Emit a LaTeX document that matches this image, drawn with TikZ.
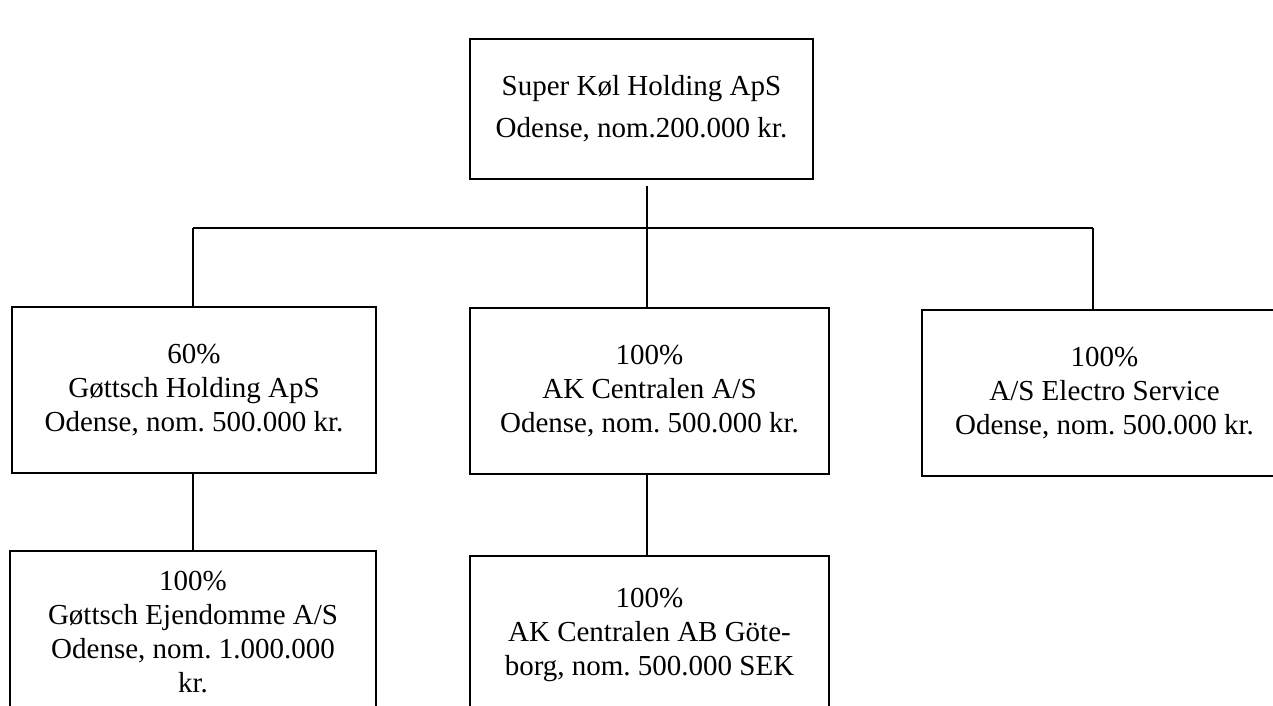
\documentclass[tikz,border=0pt]{standalone}
\usepackage{fontspec}
\setmainfont{Liberation Serif}
\frenchspacing
\begin{document}
\begin{tikzpicture}[x=1pt,y=-1pt,
  box/.style={draw,line width=2pt,align=center,inner sep=0pt,anchor=north west,
    font=\fontsize{29}{34}\selectfont},
  conn/.style={line width=2.5pt}]
\clip (0,0) rectangle (1273,706);
\useasboundingbox (0,0) rectangle (1273,706);
\node[box,minimum width=343pt,minimum height=140pt,font=\fontsize{29}{42}\selectfont] (top) at (469,38) {Super Køl Holding ApS\\Odense, nom.200.000 kr.};
\node[box,minimum width=364pt,minimum height=166pt] (gh) at (11,306) {60\%\\Gøttsch Holding ApS\\Odense, nom. 500.000 kr.};
\node[box,minimum width=359pt,minimum height=166pt] (akc) at (469,307) {100\%\\AK Centralen A/S\\Odense, nom. 500.000 kr.};
\node[box,minimum width=365pt,minimum height=166pt] (es) at (921,309) {100\%\\A/S Electro Service\\Odense, nom. 500.000 kr.};
\node[box,minimum width=366pt,minimum height=162pt] (ge) at (9,550) {100\%\\Gøttsch Ejendomme A/S\\Odense, nom. 1.000.000\\kr.};
\node[box,minimum width=359pt,minimum height=158pt] (akab) at (469,555) {100\%\\AK Centralen AB Göte-\\borg, nom. 500.000 SEK};
\coordinate (busL) at (193,228);
\coordinate (busM) at (647,228);
\coordinate (busR) at (1093,228);
\draw[conn] (busL) -- (busR);
\draw[conn] (top.south -| busM) ++(0,6) -- (busM);
\draw[conn] (busL) -- (busL |- gh.north);
\draw[conn] (busM) -- (akc.north -| busM);
\draw[conn] (busR) -- (es.north -| busR);
\draw[conn] (gh.south -| busL) -- (ge.north -| busL);
\draw[conn] (akc.south -| busM) -- (akab.north -| busM);
\end{tikzpicture}
\end{document}
